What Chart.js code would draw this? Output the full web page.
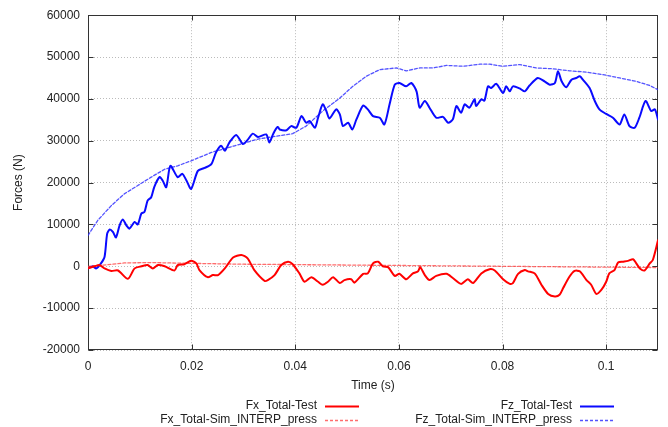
<!DOCTYPE html>
<html>
<head>
<meta charset="utf-8">
<script src="https://cdn.jsdelivr.net/npm/chart.js@4.4.1/dist/chart.umd.min.js"></script>
<style>
  html, body { margin: 0; padding: 0; background: #fff; }
  #wrap { width: 668px; height: 427px; }
</style>
</head>
<body>
<div id="wrap"><canvas id="forceChart" width="668" height="427"></canvas></div>
<script>
// values (time in s, force in N)
const fxTestTime = [0, 0.0013, 0.0022, 0.0032, 0.0045, 0.0058, 0.0077, 0.0090, 0.0103, 0.0115, 0.0125, 0.0135, 0.0148, 0.0167, 0.0173, 0.0186, 0.0199, 0.0209, 0.0215, 0.0231, 0.0241, 0.0251, 0.0264, 0.0280, 0.0296, 0.0308, 0.0321, 0.0341, 0.0347, 0.0360, 0.0373, 0.0386, 0.0395, 0.0408, 0.0418, 0.0431, 0.0444, 0.0453, 0.0463, 0.0473, 0.0486, 0.0495, 0.0508, 0.0514, 0.0531, 0.0540, 0.0550, 0.0560, 0.0569, 0.0579, 0.0592, 0.0601, 0.0614, 0.0627, 0.0637, 0.0641, 0.0650, 0.0659, 0.0672, 0.0692, 0.0704, 0.0720, 0.0733, 0.0743, 0.0759, 0.0775, 0.0785, 0.0801, 0.0814, 0.0820, 0.0830, 0.0843, 0.0849, 0.0862, 0.0875, 0.0888, 0.0901, 0.0910, 0.0917, 0.0929, 0.0939, 0.0949, 0.0962, 0.0971, 0.0981, 0.0991, 0.1000, 0.1006, 0.1016, 0.1023, 0.1033, 0.1042, 0.1052, 0.1058, 0.1065, 0.1074, 0.1084, 0.1090, 0.1100];
const fxTest = [-500, 0, 300, -500, -1100, -1000, -3000, -500, 0, 300, -500, 300, 0, -1000, 300, 500, 1300, 700, -900, -2600, -2100, -2100, -500, 2100, 2700, 1900, -900, -3500, -3300, -2100, 300, 1100, 500, -1700, -3700, -2600, -3700, -4400, -3700, -2600, -4000, -3300, -3100, -3900, -1800, -1700, 700, 1100, 0, -200, -2300, -1800, -3100, -1700, -1200, -200, -2100, -3300, -2300, -1800, -2800, -4200, -3100, -4000, -1700, -700, -1000, -3100, -4200, -4000, -1800, -900, -1200, -1700, -4400, -6600, -7200, -6800, -5200, -2500, -1100, -1200, -3300, -4400, -6600, -5600, -3700, -1700, -900, 900, 1100, 1300, 1700, 700, -500, -1000, 700, 1500, 6200];

const fxSimTime = [0, 0.003, 0.007, 0.012, 0.02, 0.03, 0.04, 0.05, 0.06, 0.07, 0.08, 0.09, 0.1, 0.11];
const fxSim = [0, 300, 800, 900, 700, 500, 400, 300, 200, 100, 0, -100, -200, -300];

const fzTestTime = [0, 0.0009, 0.0016, 0.0025, 0.0032, 0.0037, 0.0042, 0.0048, 0.0054, 0.0061, 0.0067, 0.0074, 0.0080, 0.0090, 0.0096, 0.0103, 0.0109, 0.0115, 0.0122, 0.0128, 0.0138, 0.0144, 0.0151, 0.0159, 0.0173, 0.0182, 0.0190, 0.0199, 0.0212, 0.0225, 0.0238, 0.0247, 0.0257, 0.0264, 0.0273, 0.0286, 0.0299, 0.0308, 0.0318, 0.0328, 0.0344, 0.0350, 0.0358, 0.0366, 0.0370, 0.0383, 0.0392, 0.0402, 0.0412, 0.0421, 0.0428, 0.0438, 0.0444, 0.0453, 0.0460, 0.0466, 0.0479, 0.0486, 0.0492, 0.0502, 0.0510, 0.0518, 0.0531, 0.0540, 0.0550, 0.0563, 0.0572, 0.0582, 0.0592, 0.0601, 0.0614, 0.0624, 0.0634, 0.0640, 0.0650, 0.0659, 0.0672, 0.0685, 0.0695, 0.0704, 0.0711, 0.0720, 0.0727, 0.0736, 0.0746, 0.0749, 0.0759, 0.0765, 0.0772, 0.0778, 0.0788, 0.0801, 0.0807, 0.0814, 0.0820, 0.0833, 0.0843, 0.0852, 0.0868, 0.0881, 0.0891, 0.0901, 0.0907, 0.0914, 0.0923, 0.0933, 0.0942, 0.0949, 0.0955, 0.0968, 0.0978, 0.0987, 0.1000, 0.1013, 0.1026, 0.1035, 0.1045, 0.1055, 0.1064, 0.1076, 0.1087, 0.1094, 0.1100];
const fzTest = [-500, 0, -500, 700, 2300, 7800, 8800, 8200, 6900, 9800, 11200, 9800, 9000, 10600, 10000, 12600, 13000, 15700, 16500, 19000, 21300, 20500, 18900, 24000, 21300, 22100, 20500, 18500, 22800, 23500, 24400, 27200, 28800, 27600, 29600, 31400, 29200, 30200, 31700, 30900, 31500, 29600, 31800, 33300, 32700, 32500, 33500, 33100, 35900, 34300, 34700, 33100, 35500, 38700, 37100, 35300, 37500, 36300, 33500, 34300, 32700, 35100, 38400, 37500, 35900, 35500, 33900, 38700, 43400, 43800, 43000, 43800, 41800, 37900, 39500, 37900, 35500, 35700, 34300, 35100, 38300, 36700, 38700, 37900, 39900, 38300, 39900, 39600, 43000, 42600, 43600, 41400, 43000, 41800, 43000, 42500, 41800, 43200, 45000, 44200, 43400, 43800, 46600, 44200, 42800, 44600, 45000, 45400, 44600, 42600, 39500, 37500, 36400, 35500, 33900, 36300, 33500, 33100, 35500, 39500, 37100, 37500, 35100];

const fzSimTime = [0, 0.0019, 0.0045, 0.0070, 0.0096, 0.0122, 0.0148, 0.0173, 0.0199, 0.0238, 0.0283, 0.0328, 0.0370, 0.0395, 0.0421, 0.0453, 0.0486, 0.0511, 0.0537, 0.0563, 0.0595, 0.0614, 0.0640, 0.0666, 0.0692, 0.0724, 0.0756, 0.0775, 0.0801, 0.0833, 0.0865, 0.0897, 0.0930, 0.0962, 0.0994, 0.1026, 0.1058, 0.1084, 0.1100];
const fzSim = [7400, 11000, 14500, 17300, 19300, 21300, 23200, 24000, 25200, 27200, 28800, 30400, 31200, 31700, 33500, 37100, 40200, 43000, 45400, 47000, 47400, 46700, 47400, 47400, 48000, 47800, 48300, 48300, 47800, 48200, 47400, 47200, 46700, 46400, 45800, 45000, 44200, 43200, 42200];

const seriesNames = ['Fx_Total-Test', 'Fx_Total-Sim_INTERP_press', 'Fz_Total-Test', 'Fz_Total-Sim_INTERP_press'];
const xTitle = 'Time (s)';
const yTitle = 'Forces (N)';

const FONT = '"Liberation Sans", Arial, sans-serif';

function pts(ts, vs) {
    return ts.map((t, i) => ({x: t, y: vs[i]}));
}

// gnuplot style box with inward ticks on all four sides
const frame = {
    id: 'frame',
    beforeDatasetsDraw(chart) {
        const {ctx, chartArea: a, scales} = chart;
        const l = Math.round(a.left) + 0.5, r = Math.round(a.right) - 0.5;
        const t = Math.round(a.top) + 0.5, b = Math.round(a.bottom) - 0.5;
        ctx.save();
        ctx.strokeStyle = '#333';
        ctx.lineWidth = 1;
        ctx.strokeRect(l, t, r - l, b - t);
        ctx.beginPath();
        scales.y.ticks.forEach(tk => {
            const y = Math.round(scales.y.getPixelForValue(tk.value)) + 0.5;
            ctx.moveTo(l, y); ctx.lineTo(l + 5, y);
            ctx.moveTo(r, y); ctx.lineTo(r - 5, y);
        });
        scales.x.ticks.forEach(tk => {
            const x = Math.round(scales.x.getPixelForValue(tk.value)) + 0.5;
            ctx.moveTo(x, b); ctx.lineTo(x, b - 5);
            ctx.moveTo(x, t); ctx.lineTo(x, t + 5);
        });
        ctx.stroke();
        ctx.restore();
    }
};

// legend: text right-aligned, line sample on the right
const sideLegend = {
    id: 'sideLegend',
    afterDraw(chart) {
        const ctx = chart.ctx;
        const colX = [317, 572];
        const rowY = [406, 420];
        ctx.save();
        ctx.font = '12px ' + FONT;
        ctx.textAlign = 'right';
        ctx.textBaseline = 'middle';
        chart.data.datasets.forEach((d, i) => {
            const x = colX[Math.floor(i / 2)];
            const y = rowY[i % 2];
            ctx.fillStyle = '#222';
            ctx.fillText(d.label, x, y);
            ctx.beginPath();
            ctx.strokeStyle = d.borderColor;
            ctx.lineWidth = d.borderWidth;
            ctx.setLineDash(d.borderDash || []);
            ctx.moveTo(x + 8, y + 0.5);
            ctx.lineTo(x + 42, y + 0.5);
            ctx.stroke();
        });
        ctx.restore();
    }
};

new Chart(document.getElementById('forceChart'), {
    type: 'line',
    data: {
        datasets: [
            {
                label: seriesNames[0],
                data: pts(fxTestTime, fxTest),
                borderColor: 'rgb(255, 0, 0)',
                borderWidth: 2,
                tension: 0.25
            },
            {
                label: seriesNames[1],
                data: pts(fxSimTime, fxSim),
                borderColor: 'rgba(255, 60, 60, 0.75)',
                borderWidth: 1.3,
                borderDash: [3, 2]
            },
            {
                label: seriesNames[2],
                data: pts(fzTestTime, fzTest),
                borderColor: 'rgb(10, 10, 255)',
                borderWidth: 2,
                tension: 0.25
            },
            {
                label: seriesNames[3],
                data: pts(fzSimTime, fzSim),
                borderColor: 'rgba(40, 40, 255, 0.8)',
                borderWidth: 1.3,
                borderDash: [3, 2]
            }
        ]
    },
    options: {
        responsive: false,
        animation: false,
        layout: {padding: {top: 13, right: 10, bottom: 34, left: 0}},
        elements: {
            point: {radius: 0},
            line: {tension: 0, borderJoinStyle: 'round', borderCapStyle: 'round', fill: false}
        },
        plugins: {
            legend: {display: false},
            tooltip: {enabled: false}
        },
        scales: {
            x: {
                type: 'linear',
                min: 0,
                max: 0.11,
                afterFit(scale) { scale.height = 43; },
                grid: {color: '#bbb', drawTicks: false},
                border: {display: false, dash: [1, 2]},
                ticks: {
                    stepSize: 0.02,
                    includeBounds: false,
                    padding: 9,
                    color: '#222',
                    font: {family: FONT, size: 12},
                    callback: v => String(Number(v.toFixed(2)))
                },
                title: {display: true, text: xTitle, color: '#222', padding: 0, font: {family: FONT, size: 12}}
            },
            y: {
                min: -20000,
                max: 60000,
                afterFit(scale) { scale.width = 88; },
                grid: {color: '#bbb', drawTicks: false},
                border: {display: false, dash: [1, 2]},
                ticks: {
                    stepSize: 10000,
                    padding: 8,
                    color: '#222',
                    font: {family: FONT, size: 12},
                    callback: v => String(v)
                },
                title: {display: true, text: yTitle, color: '#222', padding: {top: 11, bottom: 0}, font: {family: FONT, size: 12}}
            }
        }
    },
    plugins: [frame, sideLegend]
});
</script>
</body>
</html>
